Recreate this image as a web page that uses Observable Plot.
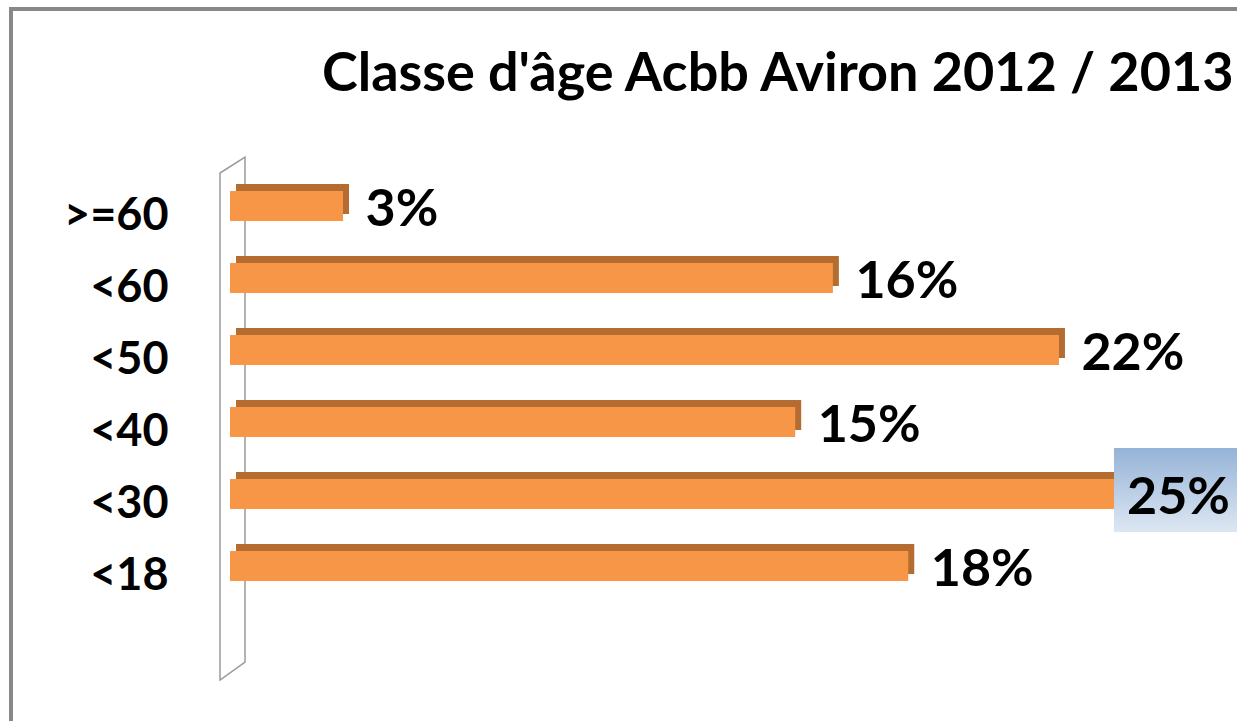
<!DOCTYPE html>
<html><head><meta charset="utf-8">
<script src="https://cdn.jsdelivr.net/npm/d3@7"></script>
<script src="https://cdn.jsdelivr.net/npm/@observablehq/plot@0.6"></script>
<style>
html,body{margin:0;padding:0;background:#fff;}
#wrap{position:relative;width:1237px;height:721px;overflow:hidden;}
#frame{position:absolute;left:9px;top:7px;right:-10px;bottom:-10px;border-top:4px solid #888;border-left:4px solid #888;}
#title{position:absolute;left:322px;top:44px;font:700 54px Lato;line-height:54px;white-space:pre;color:#000;z-index:2}
#wrap svg{position:absolute;left:0;top:0}
</style></head><body>
<div id="wrap"><div id="frame"></div><div id="title">Classe d'âge Acbb Aviron 2012 / 2013</div></div>
<script>
const categories = [">=60", "<60", "<50", "<40", "<30", "<18"];
const values = [3, 16, 22, 15, 25, 18];
const highlighted = "<30";
const data = categories.map((c, i) => ({cat: c, value: values[i]}));

const wall = Plot.ruleX([0], {
  render: (index, scales, vals, dims) => {
    const x0 = scales.x(0);
    const top = dims.marginTop, bottom = dims.height - dims.marginBottom;
    return d3.create("svg:path")
      .attr("d", `M${x0-10},${top+3}L${x0-10},${bottom+78}L${x0+15},${bottom+60}L${x0+15},${top-13}Z`)
      .attr("fill", "none").attr("stroke", "#9a9a9a").attr("stroke-width", 1.5)
      .node();
  }
});

const svg = Plot.plot({
  width: 1237,
  height: 721,
  marginLeft: 230,
  marginRight: 65,
  marginTop: 170,
  marginBottom: 119,
  style: {fontFamily: "Lato", background: "transparent", color: "#000"},
  x: {domain: [0, 25], axis: null},
  y: {domain: categories, padding: 0, label: null},
  marks: [
    wall,
    Plot.barX(data, {x: "value", y: "cat", fill: "#b46c30", dx: 6, dy: -7, insetTop: 21, insetBottom: 21}),
    Plot.barX(data, {x: "value", y: "cat", fill: "#f79646", insetTop: 21, insetBottom: 21}),
    Plot.barX(data.filter(d => d.cat === highlighted), {x1: "value", x2: "value", y: "cat", fill: "url(#hl)", insetLeft: -58, insetRight: -65, insetTop: -10, insetBottom: -2}),
    Plot.text(data.filter(d => d.cat !== highlighted), {x: "value", y: "cat", text: d => d.value + "%", textAnchor: "start", dx: 22, dy: 3, fontSize: 52, fontWeight: 700, fill: "#000"}),
    Plot.text(data.filter(d => d.cat === highlighted), {x: "value", y: "cat", text: d => d.value + "%", textAnchor: "middle", dx: 6, dy: 3, fontSize: 52, fontWeight: 700, fill: "#000"}),
    Plot.axisY({tickSize: 0, tickPadding: 62, fontSize: 45, fontWeight: 700, dy: 9, anchor: "left", label: null})
  ]
});
const defs = d3.select(svg).insert("defs", ":first-child");
const lg = defs.append("linearGradient").attr("id", "hl").attr("x1", 0).attr("y1", 0).attr("x2", 0).attr("y2", 1);
lg.append("stop").attr("offset", "0%").attr("stop-color", "#95b3d7");
lg.append("stop").attr("offset", "100%").attr("stop-color", "#dde7f3");
document.getElementById("wrap").appendChild(svg);
</script>
</body></html>
